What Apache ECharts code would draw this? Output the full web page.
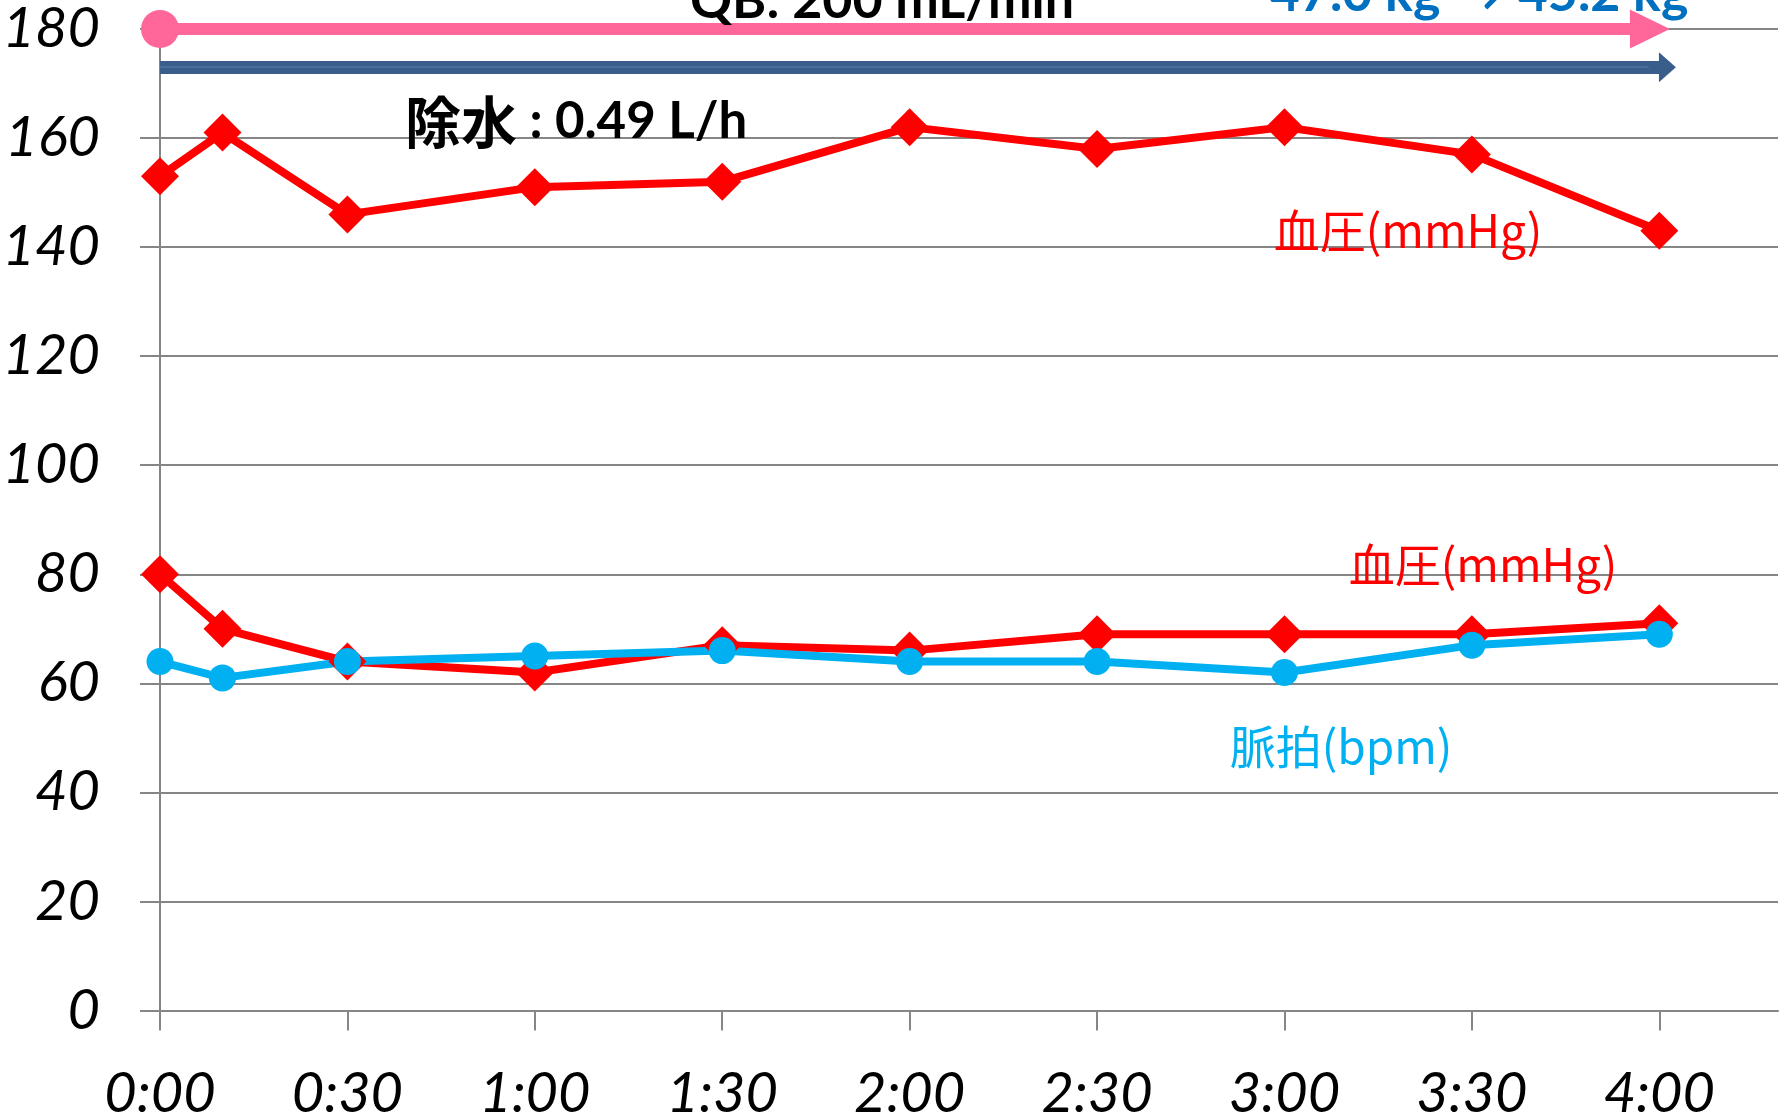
<!DOCTYPE html>
<html><head><meta charset="utf-8">
<script src="https://cdn.jsdelivr.net/npm/echarts@6/dist/echarts.min.js"></script>
<style>html,body{margin:0;padding:0;background:#fff}#c{width:1787px;height:1117px}</style>
</head><body><div id="c"></div>
<script>
// ---- data ----
const timeMinutes = [0, 10, 30, 60, 90, 120, 150, 180, 210, 240];
const tickMinutes = [0, 30, 60, 90, 120, 150, 180, 210, 240];
const tickLabels = ['0:00', '0:30', '1:00', '1:30', '2:00', '2:30', '3:00', '3:30', '4:00'];
const systolic = [153, 161, 146, 151, 152, 162, 158, 162, 157, 143];
const diastolic = [80, 70, 64, 62, 67, 66, 69, 69, 69, 71];
const pulse = [64, 61, 64, 65, 66, 64, 64, 62, 67, 69];
const yMin = 0, yMax = 180, yStep = 20;
const xMax = 259;
const qbArrow = { start: 0, end: 238.5, level: 180 };
const ufArrow = { start: 0, end: 241.3, level: 173 };
const labelBP = '血圧(mmHg)';
const labelPulse = '脈拍(bpm)';
const textQB = 'QB: 200 mL/min';
const textUFName = '除水';
const textUFValue = ' : 0.49 L/h';
const textWeight = '47.0 kg → 45.2 kg';

const pairs = arr => timeMinutes.map((t, i) => [t, arr[i]]);
const gray = '#868686';
const latin = 'Lato, "Noto Sans", "Noto Sans CJK JP", sans-serif';
const cjk = '"Noto Sans CJK JP", sans-serif';

const chart = echarts.init(document.getElementById('c'), null, { renderer: 'canvas' });
chart.setOption({
  animation: false,
  backgroundColor: '#fff',
  grid: { left: 160, right: 9, top: 29, bottom: 106.5, containLabel: false, outerBoundsMode: 'none' },
  xAxis: {
    type: 'value', min: 0, max: xMax,
    axisLine: { show: true, lineStyle: { color: gray, width: 2 } },
    axisTick: { show: true, length: 20, customValues: tickMinutes, lineStyle: { color: gray, width: 2 } },
    axisLabel: {
      customValues: tickMinutes,
      formatter: v => tickLabels[tickMinutes.indexOf(v)] || '',
      fontFamily: latin, fontStyle: 'italic', fontSize: 56, color: '#000', margin: 55
    },
    splitLine: { show: false }
  },
  yAxis: {
    type: 'value', min: yMin, max: yMax, interval: yStep,
    axisLine: { show: true, lineStyle: { color: gray, width: 2 } },
    axisTick: { show: true, length: 20, lineStyle: { color: gray, width: 2 } },
    axisLabel: { fontFamily: latin, fontStyle: 'italic', fontSize: 56, color: '#000', margin: 60 },
    splitLine: { show: true, lineStyle: { color: gray, width: 2 } }
  },
  series: [
    {
      name: 'sys', type: 'line', data: pairs(systolic),
      symbol: 'diamond', symbolSize: 38,
      lineStyle: { color: '#FF0000', width: 8 }, itemStyle: { color: '#FF0000' },
      markLine: {
        silent: true, animation: false, label: { show: false }, emphasis: { disabled: true },
        data: [
          [
            { coord: [qbArrow.start, qbArrow.level], symbol: 'circle', symbolSize: 38,
              lineStyle: { color: '#FF6699', width: 12, type: 'solid' } },
            { coord: [qbArrow.end, qbArrow.level], symbol: 'triangle', symbolSize: [39, 40] }
          ],
          [
            { coord: [ufArrow.start, ufArrow.level], symbol: 'none',
              lineStyle: { color: '#3A5E8C', width: 13, type: 'solid' } },
            { coord: [ufArrow.end, ufArrow.level], symbol: 'triangle', symbolSize: [30, 17] }
          ],
          [
            { coord: [ufArrow.start, ufArrow.level], symbol: 'none',
              lineStyle: { color: '#4F73A3', width: 1.5, type: 'solid' } },
            { coord: [ufArrow.end - 3, ufArrow.level], symbol: 'none' }
          ]
        ]
      }
    },
    {
      name: 'dia', type: 'line', data: pairs(diastolic),
      symbol: 'diamond', symbolSize: 38,
      lineStyle: { color: '#FF0000', width: 8 }, itemStyle: { color: '#FF0000' }
    },
    {
      name: 'pulse', type: 'line', data: pairs(pulse),
      symbol: 'circle', symbolSize: 27,
      lineStyle: { color: '#00B0F0', width: 8 }, itemStyle: { color: '#00B0F0' }
    }
  ],
  graphic: [
    { type: 'text', z: 100, style: { text: textQB, x: 882, y: 1, font: 'bold 52px ' + latin, fill: '#000',
      align: 'center', verticalAlign: 'middle', textAlign: 'center', textVerticalAlign: 'middle' } },
    { type: 'text', z: 100, style: { text: textWeight, x: 1479, y: -6, font: 'bold 52px ' + latin, fill: '#0070C0',
      align: 'center', verticalAlign: 'middle', textAlign: 'center', textVerticalAlign: 'middle' } },
    { type: 'text', z: 100, style: {
      text: '{a|' + textUFName + '}{b|' + textUFValue + '}', x: 405, y: 122, fill: '#000',
      align: 'left', verticalAlign: 'middle', textAlign: 'left', textVerticalAlign: 'middle',
      rich: {
        a: { fontFamily: cjk, fontWeight: 'bold', fontSize: 56, fill: '#000', color: '#000' },
        b: { fontFamily: latin, fontWeight: 'bold', fontSize: 51, fill: '#000', color: '#000' }
      } } },
    { type: 'text', z: 100, style: { text: labelBP, x: 1408, y: 231, font: '46px ' + cjk, fill: '#FF0000',
      align: 'center', verticalAlign: 'middle', textAlign: 'center', textVerticalAlign: 'middle' } },
    { type: 'text', z: 100, style: { text: labelBP, x: 1483, y: 565, font: '46px ' + cjk, fill: '#FF0000',
      align: 'center', verticalAlign: 'middle', textAlign: 'center', textVerticalAlign: 'middle' } },
    { type: 'text', z: 100, style: { text: labelPulse, x: 1341, y: 747, font: '46px ' + cjk, fill: '#00B0F0',
      align: 'center', verticalAlign: 'middle', textAlign: 'center', textVerticalAlign: 'middle' } }
  ]
});
</script></body></html>
